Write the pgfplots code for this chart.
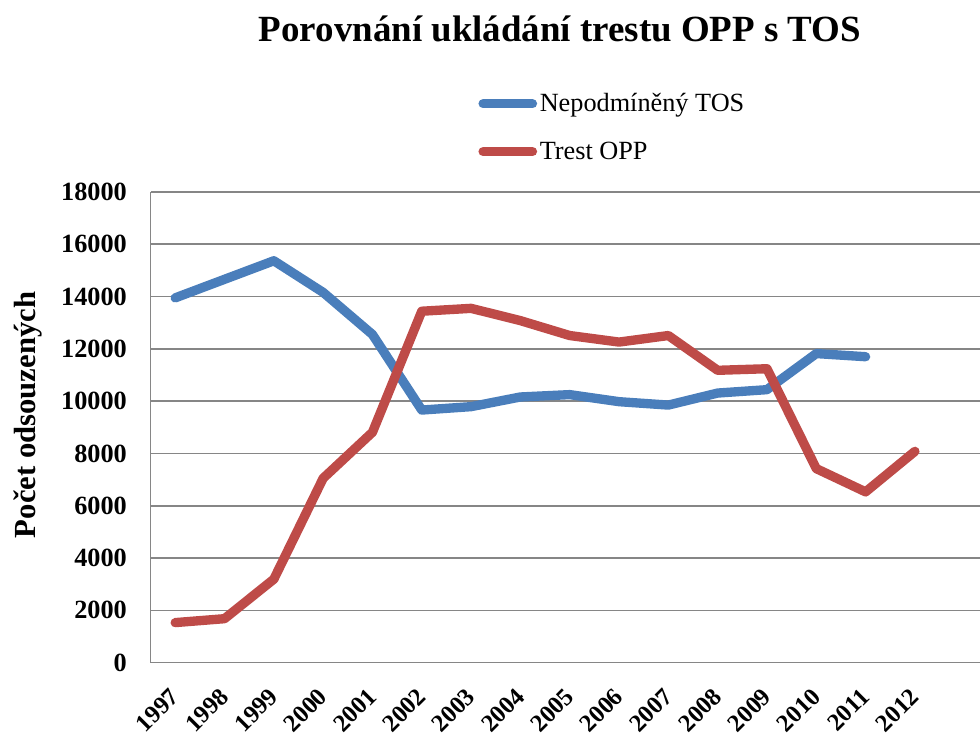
\documentclass[border=0pt]{standalone}
\usepackage{fontspec}
\setmainfont{Liberation Serif}
\usepackage{pgfplots}
\pgfplotsset{compat=1.18}

\definecolor{tosblue}{HTML}{4A7EBB}
\definecolor{oppred}{HTML}{BE4B48}
\definecolor{gridgray}{HTML}{868686}

\pgfplotstableread{
x y
0 13950
1 14660
2 15370
3 14160
4 12550
5 9660
6 9790
7 10160
8 10250
9 9980
10 9850
11 10310
12 10440
13 11820
14 11700
}\tos

\pgfplotstableread{
x y
0 1530
1 1680
2 3190
3 7050
4 8810
5 13440
6 13550
7 13080
8 12510
9 12260
10 12510
11 11180
12 11240
13 7420
14 6530
15 8080
}\opp

\begin{document}
\begin{tikzpicture}
\useasboundingbox (0,0) rectangle (735pt,552pt);
\begin{axis}[
  at={(112.9pt,55.05pt)}, anchor=south west,
  scale only axis, width=622.1pt, height=352.95pt,
  xmin=-0.5, xmax=16.32, ymin=0, ymax=18000,
  axis x line*=bottom, axis y line*=left,
  axis line style={gridgray, line width=1.2pt},
  ytick={0,2000,...,18000},
  scaled y ticks=false,
  ymajorgrids, grid style={gridgray, line width=1.2pt},
  xtick={0,...,15},
  xticklabels={1997,1998,1999,2000,2001,2002,2003,2004,2005,2006,2007,2008,2009,2010,2011,2012},
  major tick length=0pt,
  /pgf/number format/assume math mode=true,
  /pgf/number format/set thousands separator={},
  ticklabel style={font=\fontsize{19.7pt}{22pt}\selectfont\bfseries},
  yticklabel style={anchor=east, inner sep=0pt, xshift=-17.6pt},
  xticklabel style={font=\fontsize{18.5pt}{21pt}\selectfont\bfseries,
    rotate=45, anchor=north east, inner sep=0pt, xshift=-15.8pt, yshift=-9.4pt},
  legend style={draw=none, fill=none, at={(0.395,1.137)}, anchor=west,
    font=\fontsize{19.7pt}{22pt}\selectfont, row sep=17pt, inner sep=0pt},
  legend cell align=left,
  legend image code/.code={\draw[#1, line cap=round] (0pt,0pt) -- (37pt,0pt);},
]
\addplot[tosblue, line width=7pt, line join=round, line cap=round] table[x=x,y=y] {\tos};
\addlegendentry{Nepodmíněný TOS}
\addplot[oppred, line width=7pt, line join=round, line cap=round] table[x=x,y=y] {\opp};
\addlegendentry{Trest OPP}
\end{axis}
\node[anchor=base, font=\fontsize{27.7pt}{30pt}\selectfont\bfseries] at (420pt,520.5pt) {Porovnání ukládání trestu OPP s TOS};
\node[rotate=90, font=\fontsize{23pt}{26pt}\selectfont\bfseries] at (21pt,240.8pt) {Počet odsouzených};
\end{tikzpicture}
\end{document}
